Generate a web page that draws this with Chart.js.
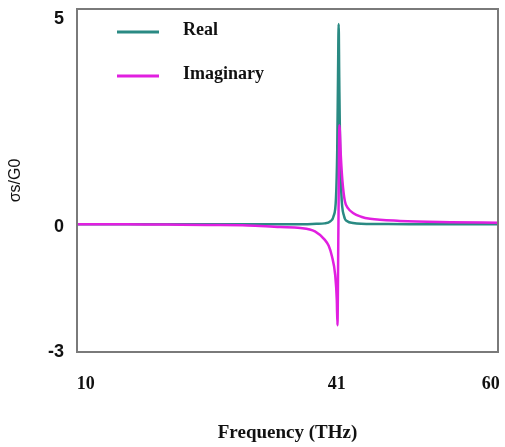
<!DOCTYPE html>
<html>
<head>
<meta charset="utf-8">
<script src="https://cdn.jsdelivr.net/npm/chart.js@4/dist/chart.umd.min.js"></script>
<style>
  html, body { margin: 0; padding: 0; background: #ffffff; }
  #wrap { width: 505px; height: 447px; }
</style>
</head>
<body>
<div id="wrap"><canvas id="c" width="505" height="447"></canvas></div>
<script>
// ---- Data ----
const seriesNames = ["Real", "Imaginary"];
const xTickValues = [10, 41, 60];
const yTickValues = [5, 0, -3];

const realFreq   = [9, 15, 20, 25, 30, 34, 37, 38.5, 39.5, 40.2, 40.6, 40.9, 41.05, 41.15, 41.23, 41.3, 41.4, 41.55, 41.9, 42.3, 43, 44, 46, 50, 55, 61];
const realValues = [0.07, 0.07, 0.07, 0.07, 0.07, 0.07, 0.07, 0.08, 0.09, 0.14, 0.26, 0.70, 1.80, 3.60, 4.88, 3.60, 2.00, 0.85, 0.26, 0.14, 0.10, 0.08, 0.075, 0.07, 0.07, 0.07];

const imagFreq   = [9, 15, 20, 25, 30, 34, 36.5, 38.3, 39.5, 40.0, 40.4, 40.8, 41.0, 41.08, 41.2, 41.32, 41.5, 41.7, 42.0, 42.4, 43.0, 44.0, 45.1, 48.8, 55, 61];
const imagValues = [0.07, 0.07, 0.06, 0.05, 0.04, 0.0, -0.02, -0.10, -0.30, -0.45, -0.70, -1.15, -1.75, -2.36, 0.0, 2.45, 1.70, 1.10, 0.62, 0.45, 0.34, 0.25, 0.20, 0.15, 0.12, 0.105];

const seriesColors = ["#2a8a83", "#e11fe0"];

function toPoints(xs, ys) { return xs.map((x, i) => ({ x: x, y: ys[i] })); }

function noPad(scale) {
  scale.paddingLeft = 0; scale.paddingRight = 0;
  scale.paddingTop = 0; scale.paddingBottom = 0;
}

const frameAndLegend = {
  id: 'frameAndLegend',
  afterDatasetsDraw(chart) {
    const ctx = chart.ctx;
    const a = chart.chartArea;
    ctx.save();
    ctx.strokeStyle = '#7a7a7a';
    ctx.lineWidth = 2;
    ctx.strokeRect(a.left, a.top, a.right - a.left, a.bottom - a.top);
    // legend inside the plot
    const items = chart.data.datasets;
    const rows = [30, 74];
    ctx.font = 'bold 18px "Liberation Serif", "Times New Roman", serif';
    ctx.textBaseline = 'middle';
    ctx.textAlign = 'left';
    items.forEach((ds, i) => {
      const y = rows[i];
      ctx.strokeStyle = ds.borderColor;
      ctx.lineWidth = 3;
      ctx.beginPath();
      ctx.moveTo(117, y + 2);
      ctx.lineTo(159, y + 2);
      ctx.stroke();
      ctx.fillStyle = '#111111';
      ctx.fillText(ds.label, 183, y);
    });
    ctx.restore();
  }
};

new Chart(document.getElementById('c'), {
  type: 'line',
  data: {
    datasets: [
      {
        label: seriesNames[0],
        data: toPoints(realFreq, realValues),
        borderColor: seriesColors[0],
        backgroundColor: seriesColors[0],
        borderWidth: 2.5,
        pointRadius: 0,
        cubicInterpolationMode: 'monotone',
        order: 1
      },
      {
        label: seriesNames[1],
        data: toPoints(imagFreq, imagValues),
        borderColor: seriesColors[1],
        backgroundColor: seriesColors[1],
        borderWidth: 2.5,
        pointRadius: 0,
        cubicInterpolationMode: 'monotone',
        order: 0
      }
    ]
  },
  options: {
    responsive: false,
    animation: false,
    devicePixelRatio: 1,
    layout: { padding: { top: 9, right: 7, left: 0, bottom: 0 } },
    plugins: {
      legend: { display: false },
      tooltip: { enabled: false }
    },
    scales: {
      x: {
        type: 'linear',
        min: 8.93,
        max: 60.9,
        grid: { display: false, drawTicks: false },
        border: { display: false },
        afterBuildTicks(scale) { scale.ticks = xTickValues.map(v => ({ value: v })); },
        afterFit(scale) { scale.height = 95; noPad(scale); },
        ticks: {
          padding: 22,
          color: '#111111',
          font: { family: '"Liberation Serif", "Times New Roman", serif', size: 18, weight: 'bold' },
          maxRotation: 0,
          autoSkip: false
        },
        title: {
          display: true,
          text: 'Frequency (THz)',
          color: '#111111',
          font: { family: '"Liberation Serif", "Times New Roman", serif', size: 19, weight: 'bold' },
          padding: { top: 0, bottom: 3 }
        }
      },
      y: {
        type: 'linear',
        min: -3,
        max: 5.24,
        grid: { display: false, drawTicks: false },
        border: { display: false },
        afterBuildTicks(scale) { scale.ticks = yTickValues.map(v => ({ value: v })); },
        afterFit(scale) { scale.width = 77; noPad(scale); },
        ticks: {
          padding: 13,
          color: '#111111',
          font: { family: '"Liberation Sans", Arial, sans-serif', size: 18, weight: 'bold' },
          autoSkip: false
        },
        title: {
          display: true,
          text: 'σs/G0',
          color: '#111111',
          font: { family: '"Liberation Sans", Arial, sans-serif', size: 16 },
          padding: { top: 6, bottom: 0 }
        }
      }
    }
  },
  plugins: [frameAndLegend]
});
</script>
</body>
</html>
